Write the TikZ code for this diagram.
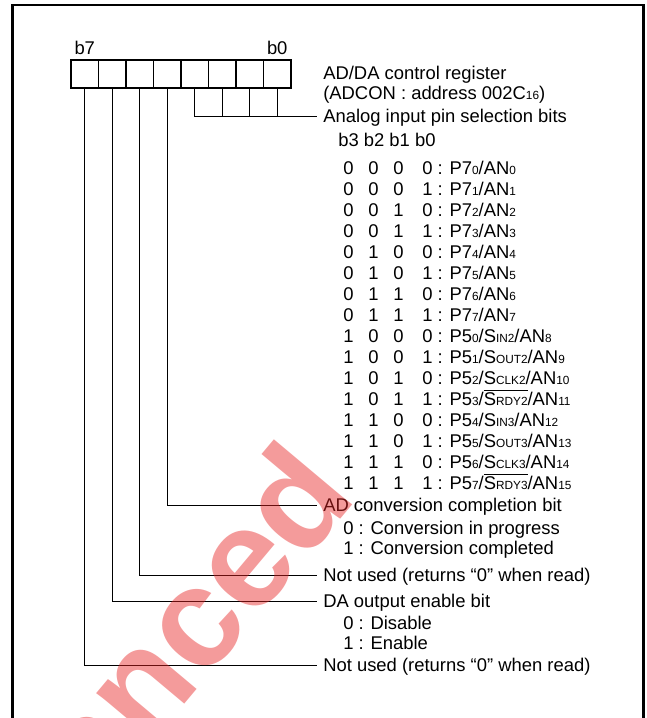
\documentclass[tikz,border=0pt]{standalone}
\usepackage{fontspec}
\setmainfont{Liberation Sans}
\usetikzlibrary{positioning}
\definecolor{Ink}{HTML}{000000}
\definecolor{Stamp}{HTML}{E62222}
\newcommand{\lowtxt}[1]{{\fontsize{8.4pt}{8pt}\selectfont #1}}
\newcommand{\barred}[1]{$\overline{\hbox{#1}}$}

\begin{document}
\begin{tikzpicture}[
  cell/.style={draw=Ink,line width=0.8pt,minimum width=0.6875cm,minimum height=0.7cm,inner sep=0pt},
  wire/.style={draw=Ink,line width=0.6pt},
  frame/.style={draw=Ink,line width=2pt},
  txt/.style={anchor=west,inner xsep=0pt,inner ysep=0pt,text height=9.4pt,text depth=0pt,text=Ink,font=\fontsize{13.1pt}{15pt}\selectfont},
  lbl/.style={txt,inner xsep=0.15cm},
  stamp/.style={anchor=base east,rotate=50,inner sep=0pt,text=Stamp,opacity=0.45,font=\fontsize{100pt}{100pt}\selectfont\bfseries}
]
\useasboundingbox (0,0) rectangle (16.175,17.95);
\clip (0,0) rectangle (16.175,17.95);
\draw[frame] (0.31,-0.5) |- (16.08,17.825) -- (16.08,-0.5);
\foreach \i in {0,...,7}
  \node[cell] (bit\i) at ({2.11875+(7-\i)*0.6875},16.1) {};
\node[txt,above=0.125cm of bit7] (lb7) {b7};
\node[txt,above=0.125cm of bit0] (lb0) {b0};
\node[txt] (title1) at (8.075,16.13) {AD/DA control register};
\node[txt] (title2) at (8.075,15.62) {(ADCON : address 002C\lowtxt{16})};
\node[lbl] (ana) at (7.925,15.05) {Analog input pin selection bits};
\node[txt] (hdr) at (8.45,14.45) {b3 b2 b1 b0};
\foreach \a/\b/\c/\d/\pin [count=\r from 0] in {
  0/0/0/0/{P7\lowtxt{0}/AN\lowtxt{0}},
  0/0/0/1/{P7\lowtxt{1}/AN\lowtxt{1}},
  0/0/1/0/{P7\lowtxt{2}/AN\lowtxt{2}},
  0/0/1/1/{P7\lowtxt{3}/AN\lowtxt{3}},
  0/1/0/0/{P7\lowtxt{4}/AN\lowtxt{4}},
  0/1/0/1/{P7\lowtxt{5}/AN\lowtxt{5}},
  0/1/1/0/{P7\lowtxt{6}/AN\lowtxt{6}},
  0/1/1/1/{P7\lowtxt{7}/AN\lowtxt{7}},
  1/0/0/0/{P5\lowtxt{0}/S\lowtxt{IN2}/AN\lowtxt{8}},
  1/0/0/1/{P5\lowtxt{1}/S\lowtxt{OUT2}/AN\lowtxt{9}},
  1/0/1/0/{P5\lowtxt{2}/S\lowtxt{CLK2}/AN\lowtxt{10}},
  1/0/1/1/{P5\lowtxt{3}/\barred{S\lowtxt{RDY2}}/AN\lowtxt{11}},
  1/1/0/0/{P5\lowtxt{4}/S\lowtxt{IN3}/AN\lowtxt{12}},
  1/1/0/1/{P5\lowtxt{5}/S\lowtxt{OUT3}/AN\lowtxt{13}},
  1/1/1/0/{P5\lowtxt{6}/S\lowtxt{CLK3}/AN\lowtxt{14}},
  1/1/1/1/{P5\lowtxt{7}/\barred{S\lowtxt{RDY3}}/AN\lowtxt{15}}}
  \node[txt] (row\r) at (8.575,{13.7625-0.525*\r})
    {\makebox[0.625cm][l]{\a}\makebox[0.625cm][l]{\b}\makebox[0.725cm][l]{\c}\d{} : \pin};
\node[lbl] (adc) at (7.925,5.325) {AD conversion completion bit};
\node[txt] (adc0) at (8.575,4.7425) {0 : Conversion in progress};
\node[txt] (adc1) at (8.575,4.2425) {1 : Conversion completed};
\node[lbl] (nu5) at (7.925,3.575) {Not used (returns “0” when read)};
\node[lbl] (dae) at (7.925,2.925) {DA output enable bit};
\node[txt] (dae0) at (8.575,2.3675) {0 : Disable};
\node[txt] (dae1) at (8.575,1.8675) {1 : Enable};
\node[lbl] (nu7) at (7.925,1.325) {Not used (returns “0” when read)};
\draw[wire] (bit3.south) |- (ana.west);
\foreach \i in {2,1,0}
  \draw[wire] (bit\i.south) -- (bit\i.south |- ana.west);
\draw[wire] (bit4.south) |- (adc.west);
\draw[wire] (bit5.south) |- (nu5.west);
\draw[wire] (bit6.south) |- (dae.west);
\draw[wire] (bit7.south) |- (nu7.west);
\node[stamp] (mark) at (8.975,5.525) {Advanced};
\end{tikzpicture}
\end{document}
